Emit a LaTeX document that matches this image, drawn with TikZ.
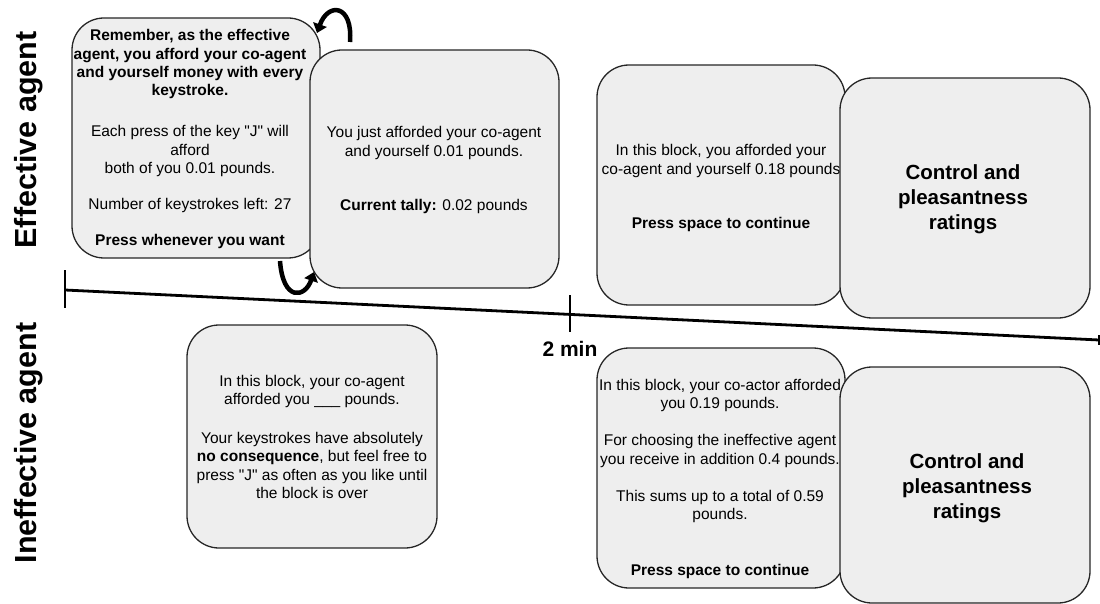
\documentclass[tikz,border=0pt]{standalone}
\usepackage{fontspec}
\setmainfont{Liberation Sans}
\newfontfamily\plainq{Liberation Sans}
\newcommand{\sq}{{\plainq"}}
\usetikzlibrary{arrows.meta}
\definecolor{boxgray}{HTML}{EEEEEE}
\definecolor{edge}{HTML}{262626}
\begin{document}
\begin{tikzpicture}[x=1pt,y=-1pt,
  screen/.style={draw=edge, line width=1.3pt, fill=boxgray, rounded corners=32pt, inner sep=0pt},
  txt/.style={align=center, inner sep=0pt, font=\fontsize{15.5}{18.4}\selectfont},
  big/.style={align=center, inner sep=0pt, font=\fontsize{20.5}{25}\selectfont\bfseries},
  rowlabel/.style={rotate=90, inner sep=0pt, font=\fontsize{30.5}{36}\selectfont\bfseries},
  timeline/.style={line width=2.8pt, black},
  loop/.style={line width=4.5pt, black, -{Triangle[length=9pt,width=14pt]}}
]
\useasboundingbox (0,0) rectangle (1100,604);

% row labels
\node[rowlabel] (effl) at (29,140) {Effective agent};
\node[rowlabel] (ineffl) at (29,443) {Ineffective agent};

% timeline
\coordinate (t0) at (65,290);
\coordinate (t1) at (1099,340);
\coordinate (t0a) at (65,270);
\coordinate (t0b) at (65,308);
\coordinate (tma) at (570,295);
\coordinate (tmb) at (570,332);
\coordinate (t1a) at (1099,335);
\coordinate (t1b) at (1099,345);
\draw[timeline] (t0) -- (t1);
\draw[timeline] (t0a) -- (t0b);
\draw[line width=2.6pt] (tma) -- (tmb);
\draw[line width=2pt] (t1a) -- (t1b);
\node[font=\fontsize{21}{25}\selectfont\bfseries, inner sep=0pt] (twomin) at (570,349) {2 min};

% effective agent screens
\node[screen, minimum width=248pt, minimum height=240pt] (A) at (196,138) {};
\node[txt] (At) at (190,139) {\textbf{Remember, as the effective}\\
\textbf{agent, you afford your co-agent}\\
\textbf{and yourself money with every}\\
\textbf{keystroke.}\\[22.5pt]
Each press of the key \sq J\sq\ will\\
afford\\
both of you 0.01 pounds.\\[17.5pt]
Number of keystrokes left: 27\\[17.5pt]
\textbf{Press whenever you want}};

\node[screen, minimum width=249pt, minimum height=238pt] (B) at (434.5,169) {};
\node[txt] (Bt) at (434,170) {You just afforded your co-agent\\
and yourself 0.01 pounds.\\[36pt]
\textbf{Current tally:} 0.02 pounds};

\node[screen, minimum width=248pt, minimum height=240pt] (C) at (721,185) {};
\node[txt] (Ct) at (721,188) {In this block, you afforded your\\
co-agent and yourself 0.18 pounds\\[35.5pt]
\textbf{Press space to continue}};

\node[screen, minimum width=250pt, minimum height=240pt] (D) at (965,198) {};
\node[big] (Dt) at (963,199) {Control and\\pleasantness\\ratings};

% ineffective agent screens
\node[screen, minimum width=250pt, minimum height=223pt] (E) at (312,436.5) {};
\node[txt] (Et) at (312,437) {In this block, your co-agent\\
afforded you \_\_\_ pounds.\\[20pt]
Your keystrokes have absolutely\\
\textbf{no consequence}, but feel free to\\
press \sq J\sq\ as often as you like until\\
the block is over};

\node[screen, minimum width=248pt, minimum height=240pt] (F) at (721,468) {};
\node[txt] (Ft) at (720,479) {In this block, your co-actor afforded\\
you 0.19 pounds.\\[18.5pt]
For choosing the ineffective agent\\
you receive in addition 0.4 pounds.\\[19pt]
This sums up to a total of 0.59\\
pounds.\\[37.5pt]
\textbf{Press space to continue}};

\node[screen, minimum width=250pt, minimum height=236pt] (G) at (965,485) {};
\node[big] (Gt) at (967,488) {Control and\\pleasantness\\ratings};

% loop arrows between the first two screens
\coordinate (la0) at (350,42);
\coordinate (la1) at (317,33);
\draw[loop] (la0) .. controls (353,4) and (328,2) .. (la1);
\coordinate (lb0) at (280,261);
\coordinate (lb1) at (314,272);
\draw[loop] (lb0) .. controls (283,302) and (305,298) .. (lb1);
\end{tikzpicture}
\end{document}
